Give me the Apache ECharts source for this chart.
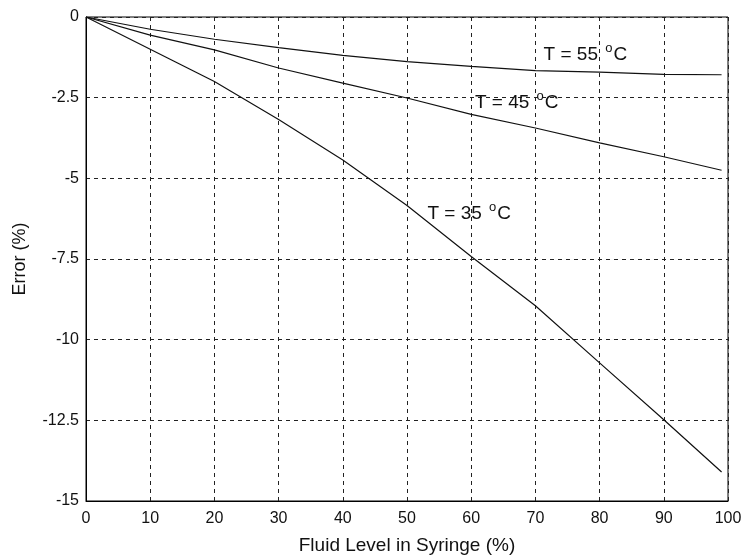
<!DOCTYPE html>
<html><head><meta charset="utf-8">
<script src="https://cdn.jsdelivr.net/npm/echarts@6/dist/echarts.min.js"></script>
<style>html,body{margin:0;padding:0;background:#fff}#c{width:750px;height:560px}</style>
</head><body><div id="c"></div>
<script>
const fluidLevel = [0, 10, 20, 30, 40, 50, 60, 70, 80, 90, 99];
const err55 = [0, -0.38, -0.69, -0.95, -1.19, -1.38, -1.53, -1.66, -1.71, -1.78, -1.79];
const err45 = [0, -0.56, -1.02, -1.58, -2.05, -2.51, -3.02, -3.44, -3.90, -4.33, -4.75];
const err35 = [0, -1.00, -2.00, -3.18, -4.43, -5.84, -7.42, -8.95, -10.72, -12.48, -14.10];
const labelTexts = ['55', '45', '35'];
const labelPos = [[71.2, -1.17], [60.5, -2.65], [53.1, -6.1]];

const font = 'Liberation Sans, Arial, sans-serif';
const chart = echarts.init(document.getElementById('c'));
function mk(name, vals, idx) {
  return {
    type: 'line', name: name, data: fluidLevel.map((x, i) => [x, vals[i]]),
    symbol: 'none', lineStyle: {color: '#111', width: 1.2}, silent: true, z: 3,
    markPoint: {
      symbol: 'circle', symbolSize: 1, silent: true,
      itemStyle: {color: 'rgba(0,0,0,0)'},
      data: [{coord: labelPos[idx],
        label: {show: true, position: 'right', distance: 0, formatter: '{a|T = ' + labelTexts[idx] + ' }{s|o}{a|C}',
          rich: {a: {fontSize: 19, fontFamily: font, color: '#111'},
                 s: {fontSize: 13, fontFamily: font, color: '#111', padding: [0, 1, 12, 2]}}}}]
    }
  };
}
chart.setOption({
  animation: false,
  grid: {left: 86, right: 22, top: 17, bottom: 57, show: true, borderColor: '#000', borderWidth: 1},
  xAxis: {type: 'value', min: 0, max: 100, interval: 10,
    name: 'Fluid Level in Syringe (%)', nameLocation: 'middle', nameGap: 35,
    nameTextStyle: {fontSize: 19, fontFamily: font, color: '#111'},
    axisLine: {show: true, onZero: false, lineStyle: {color: '#000'}}, axisTick: {show: false},
    axisLabel: {fontSize: 16, fontFamily: font, color: '#111', margin: 10},
    splitLine: {show: true, lineStyle: {color: '#222', type: [4, 4], width: 1}}},
  yAxis: {type: 'value', min: -15, max: 0, interval: 2.5,
    name: 'Error (%)', nameLocation: 'middle', nameGap: 57,
    nameTextStyle: {fontSize: 18, fontFamily: font, color: '#111'},
    axisLine: {show: true, lineStyle: {color: '#000'}}, axisTick: {show: false},
    axisLabel: {fontSize: 16, fontFamily: font, color: '#111', margin: 7},
    splitLine: {show: true, lineStyle: {color: '#222', type: [4, 4], width: 1}}},
  series: [mk('T55', err55, 0), mk('T45', err45, 1), mk('T35', err35, 2)]
});
</script></body></html>
